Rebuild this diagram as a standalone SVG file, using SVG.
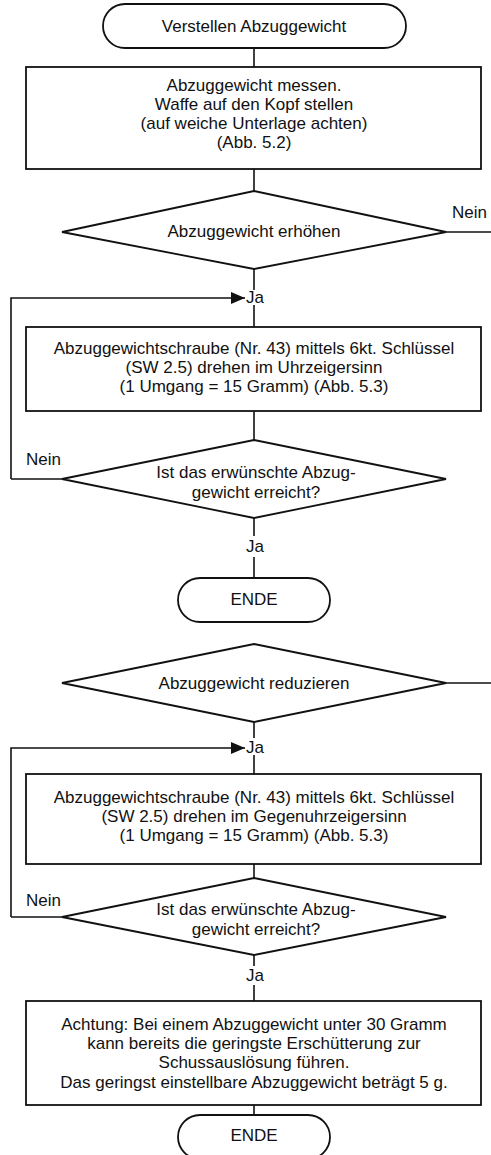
<svg xmlns="http://www.w3.org/2000/svg" width="491" height="1155" viewBox="0 0 491 1155">
<style>
  .shape { fill: #ffffff; stroke: #111111; stroke-width: 1.8; }
  .conn { fill: none; stroke: #111111; stroke-width: 1.6; }
  text { font-family: "Liberation Sans Narrow", "Liberation Sans", Arial, sans-serif; font-size: 17px; fill: #111111; text-anchor: middle; }
  .lbl { text-anchor: start; }
</style>
<defs>
  <marker id="arrow" markerWidth="14" markerHeight="12" refX="14" refY="6" orient="auto" markerUnits="userSpaceOnUse">
    <path d="M0,0 L14,6 L0,12 Z" fill="#111111"/>
  </marker>
</defs>
<rect width="491" height="1155" fill="#ffffff"/>
<g id="connectors">
  <path class="conn" d="M254,48 V67"/>
  <path class="conn" d="M254,169 V191"/>
  <path class="conn" d="M446,232 H491"/>
  <path class="conn" d="M254,269 V290"/>
  <path class="conn" d="M11,479 V298 H245" marker-end="url(#arrow)"/>
  <path class="conn" d="M254,305 V327"/>
  <path class="conn" d="M254,411 V440"/>
  <path class="conn" d="M62,479 H11"/>
  <path class="conn" d="M254,518 V536"/>
  <path class="conn" d="M254,557 V578"/>
  <path class="conn" d="M254,722 V738"/>
  <path class="conn" d="M446,683 H491"/>
  <path class="conn" d="M11,917 V748 H245" marker-end="url(#arrow)"/>
  <path class="conn" d="M254,755 V774"/>
  <path class="conn" d="M254,864 V878"/>
  <path class="conn" d="M62,917 H11"/>
  <path class="conn" d="M254,955 V966"/>
  <path class="conn" d="M254,985 V1001"/>
  <path class="conn" d="M254,1105 V1115"/>
  <text class="lbl" x="452" y="218">Nein</text>
  <text class="lbl" x="246" y="303">Ja</text>
  <text class="lbl" x="26" y="465">Nein</text>
  <text x="255" y="552">Ja</text>
  <text class="lbl" x="246" y="753">Ja</text>
  <text class="lbl" x="26" y="906">Nein</text>
  <text x="255" y="981">Ja</text>
</g>
<g id="start">
  <rect class="shape" x="103" y="4" width="303" height="44" rx="22" ry="22"/>
  <text x="254" y="32">Verstellen Abzuggewicht</text>
</g>
<g id="measure">
  <rect class="shape" x="26" y="67" width="455" height="102"/>
  <text x="254" y="91">Abzuggewicht messen.</text>
  <text x="254" y="110">Waffe auf den Kopf stellen</text>
  <text x="254" y="129">(auf weiche Unterlage achten)</text>
  <text x="254" y="148">(Abb. 5.2)</text>
</g>
<g id="decision-increase">
  <polygon class="shape" points="254,191 446,232 254,269 62,232"/>
  <text x="254" y="237">Abzuggewicht erhöhen</text>
</g>
<g id="turn-clockwise">
  <rect class="shape" x="26" y="327" width="455" height="84"/>
  <text x="254" y="354">Abzuggewichtschraube (Nr. 43) mittels 6kt. Schlüssel</text>
  <text x="254" y="373">(SW 2.5) drehen im Uhrzeigersinn</text>
  <text x="254" y="392">(1 Umgang = 15 Gramm) (Abb. 5.3)</text>
</g>
<g id="decision-reached-1">
  <polygon class="shape" points="254,440 446,479 254,518 62,479"/>
  <text x="256" y="478">Ist das erwünschte Abzug-</text>
  <text x="256" y="498">gewicht erreicht?</text>
</g>
<g id="end-1">
  <rect class="shape" x="178" y="578" width="152" height="44" rx="22" ry="22"/>
  <text x="254" y="605">ENDE</text>
</g>
<g id="decision-reduce">
  <polygon class="shape" points="254,644 446,683 254,722 62,683"/>
  <text x="254" y="689">Abzuggewicht reduzieren</text>
</g>
<g id="turn-counterclockwise">
  <rect class="shape" x="26" y="774" width="455" height="90"/>
  <text x="254" y="803">Abzuggewichtschraube (Nr. 43) mittels 6kt. Schlüssel</text>
  <text x="254" y="822">(SW 2.5) drehen im Gegenuhrzeigersinn</text>
  <text x="254" y="841">(1 Umgang = 15 Gramm) (Abb. 5.3)</text>
</g>
<g id="decision-reached-2">
  <polygon class="shape" points="254,878 446,917 254,955 62,917"/>
  <text x="256" y="915">Ist das erwünschte Abzug-</text>
  <text x="256" y="935">gewicht erreicht?</text>
</g>
<g id="warning">
  <rect class="shape" x="26" y="1001" width="455" height="104"/>
  <text x="254" y="1030">Achtung: Bei einem Abzuggewicht unter 30 Gramm</text>
  <text x="254" y="1049">kann bereits die geringste Erschütterung zur</text>
  <text x="254" y="1068">Schussauslösung führen.</text>
  <text x="254" y="1088">Das geringst einstellbare Abzuggewicht beträgt 5 g.</text>
</g>
<g id="end-2">
  <rect class="shape" x="178" y="1115" width="152" height="44" rx="22" ry="22"/>
  <text x="254" y="1141">ENDE</text>
</g>
</svg>
